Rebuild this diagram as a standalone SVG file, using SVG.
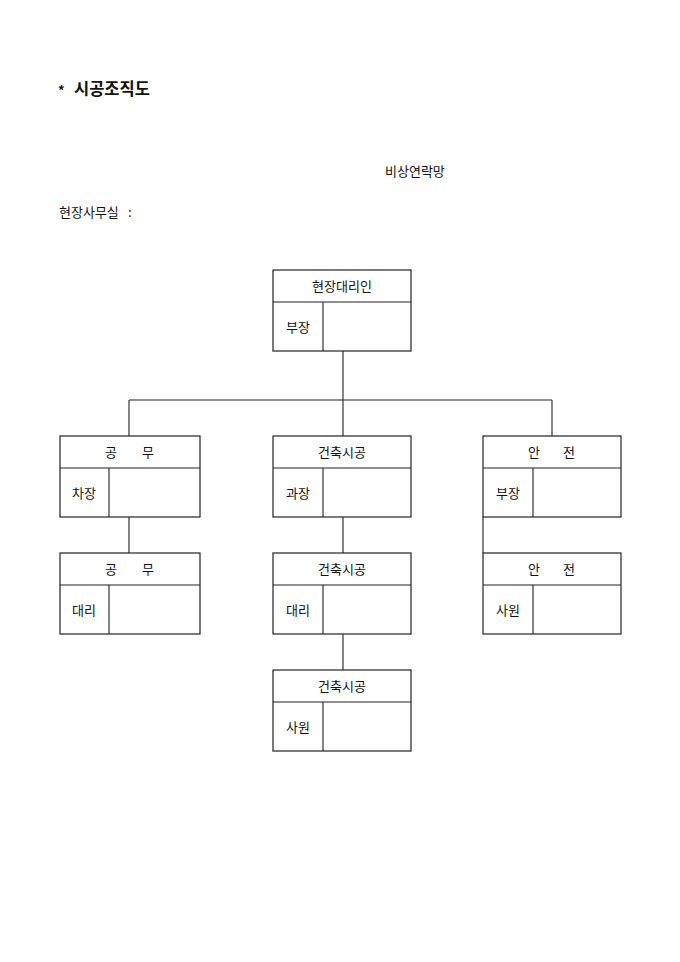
<svg xmlns="http://www.w3.org/2000/svg" width="680" height="962" viewBox="0 0 680 962">
<style>
.t{font-family:"Noto Sans CJK KR","Noto Sans",sans-serif;font-size:13px;fill:#111}
.c{text-anchor:middle}
.b{fill:none;stroke:#222;stroke-width:1.2}
.l{stroke:#222;stroke-width:1.1;fill:none}
</style>
<rect width="680" height="962" fill="#fff"/>
<text x="58" y="95" class="t" style="font-size:13px;font-weight:bold">*</text>
<text x="74" y="95" class="t" style="font-size:16.5px;font-weight:bold">시공조직도</text>
<text x="385" y="176" class="t">비상연락망</text>
<text x="59" y="217" class="t">현장사무실</text>
<text x="128" y="217" class="t">:</text>
<g id="connectors">
<path class="l" d="M343 351V400M129 400H552M129 400V436M343 400V436M552 400V436M129 517V553M343 517V553M483 517V553M343 634V670"/>
</g>
<g id="n-agent">
<rect class="b" x="273" y="270" width="138" height="81"/>
<path class="l" d="M273 302H411M323 302V351"/>
<text x="342" y="291" class="t c">현장대리인</text>
<text x="298" y="332" class="t c">부장</text>
</g>
<g id="n-gongmu1">
<rect class="b" x="60" y="436" width="140" height="81"/>
<path class="l" d="M60 468H200M109 468V517"/>
<text x="111" y="457" class="t c">공</text><text x="148" y="457" class="t c">무</text>
<text x="84" y="498" class="t c">차장</text>
</g>
<g id="n-build1">
<rect class="b" x="273" y="436" width="138" height="81"/>
<path class="l" d="M273 468H411M323 468V517"/>
<text x="342" y="457" class="t c">건축시공</text>
<text x="298" y="498" class="t c">과장</text>
</g>
<g id="n-safety1">
<rect class="b" x="483" y="436" width="138" height="81"/>
<path class="l" d="M483 468H621M533 468V517"/>
<text x="534" y="457" class="t c">안</text><text x="569" y="457" class="t c">전</text>
<text x="508" y="498" class="t c">부장</text>
</g>
<g id="n-gongmu2">
<rect class="b" x="60" y="553" width="140" height="81"/>
<path class="l" d="M60 585H200M109 585V634"/>
<text x="111" y="574" class="t c">공</text><text x="148" y="574" class="t c">무</text>
<text x="84" y="615" class="t c">대리</text>
</g>
<g id="n-build2">
<rect class="b" x="273" y="553" width="138" height="81"/>
<path class="l" d="M273 585H411M323 585V634"/>
<text x="342" y="574" class="t c">건축시공</text>
<text x="298" y="615" class="t c">대리</text>
</g>
<g id="n-safety2">
<rect class="b" x="483" y="553" width="138" height="81"/>
<path class="l" d="M483 585H621M533 585V634"/>
<text x="534" y="574" class="t c">안</text><text x="569" y="574" class="t c">전</text>
<text x="508" y="615" class="t c">사원</text>
</g>
<g id="n-build3">
<rect class="b" x="273" y="670" width="138" height="81"/>
<path class="l" d="M273 702H411M323 702V751"/>
<text x="342" y="691" class="t c">건축시공</text>
<text x="298" y="732" class="t c">사원</text>
</g>
</svg>
